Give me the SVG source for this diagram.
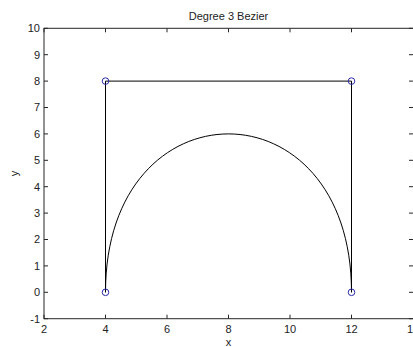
<svg xmlns="http://www.w3.org/2000/svg" width="413" height="347" viewBox="0 0 413 347">
<style>
.ax{stroke:#262626;stroke-width:1;fill:none}
.tk{stroke:#262626;stroke-width:1}
.t{font-family:"Liberation Sans",Arial,sans-serif;font-size:11px;fill:#222}
.ln{stroke:#000;stroke-width:1;fill:none}
.mk{stroke:#2a2aa8;stroke-width:1;fill:none}
</style>
<rect width="413" height="347" fill="#fff"/>
<g id="axes">
<rect class="ax" x="44" y="28.3" width="369.5" height="290.4"/>
<g class="tk">
<path d="M44 318.7v-4M44 28.3v4M105.5 318.7v-4M105.5 28.3v4M167 318.7v-4M167 28.3v4M228.5 318.7v-4M228.5 28.3v4M290 318.7v-4M290 28.3v4M351.5 318.7v-4M351.5 28.3v4"/>
<path d="M44 318.7h4M44 292.3h4M44 265.9h4M44 239.5h4M44 213.1h4M44 186.7h4M44 160.3h4M44 133.9h4M44 107.5h4M44 81.1h4M44 54.7h4M44 28.3h4"/>
<path d="M413 318.7h-4M413 292.3h-4M413 265.9h-4M413 239.5h-4M413 213.1h-4M413 186.7h-4M413 160.3h-4M413 133.9h-4M413 107.5h-4M413 81.1h-4M413 54.7h-4M413 28.3h-4"/>
</g>
<g class="t" text-anchor="end">
<text x="40" y="322.5">-1</text>
<text x="40" y="296.1">0</text>
<text x="40" y="269.7">1</text>
<text x="40" y="243.3">2</text>
<text x="40" y="216.9">3</text>
<text x="40" y="190.5">4</text>
<text x="40" y="164.1">5</text>
<text x="40" y="137.7">6</text>
<text x="40" y="111.3">7</text>
<text x="40" y="84.9">8</text>
<text x="40" y="58.5">9</text>
<text x="40" y="32.1">10</text>
</g>
<g class="t" text-anchor="middle">
<text x="44" y="333">2</text>
<text x="105.5" y="333">4</text>
<text x="167" y="333">6</text>
<text x="228.5" y="333">8</text>
<text x="290" y="333">10</text>
<text x="351.5" y="333">12</text>
<text x="413" y="333">14</text>
<text x="228.5" y="346">x</text>
<text x="15" y="173.5" transform="rotate(-90 15 173.5)" dy="3">y</text>
<text x="228.5" y="20">Degree 3 Bezier</text>
</g>
</g>
<g id="polygon">
<path class="ln" d="M105.5 292.3V81.1H351.5V292.3"/>
</g>
<g id="curve">
<path class="ln" d="M105.5 292.3C105.5 81.1 351.5 81.1 351.5 292.3"/>
</g>
<g id="markers">
<circle class="mk" cx="105.5" cy="292.3" r="3.3"/>
<circle class="mk" cx="105.5" cy="81.1" r="3.3"/>
<circle class="mk" cx="351.5" cy="81.1" r="3.3"/>
<circle class="mk" cx="351.5" cy="292.3" r="3.3"/>
</g>
</svg>
